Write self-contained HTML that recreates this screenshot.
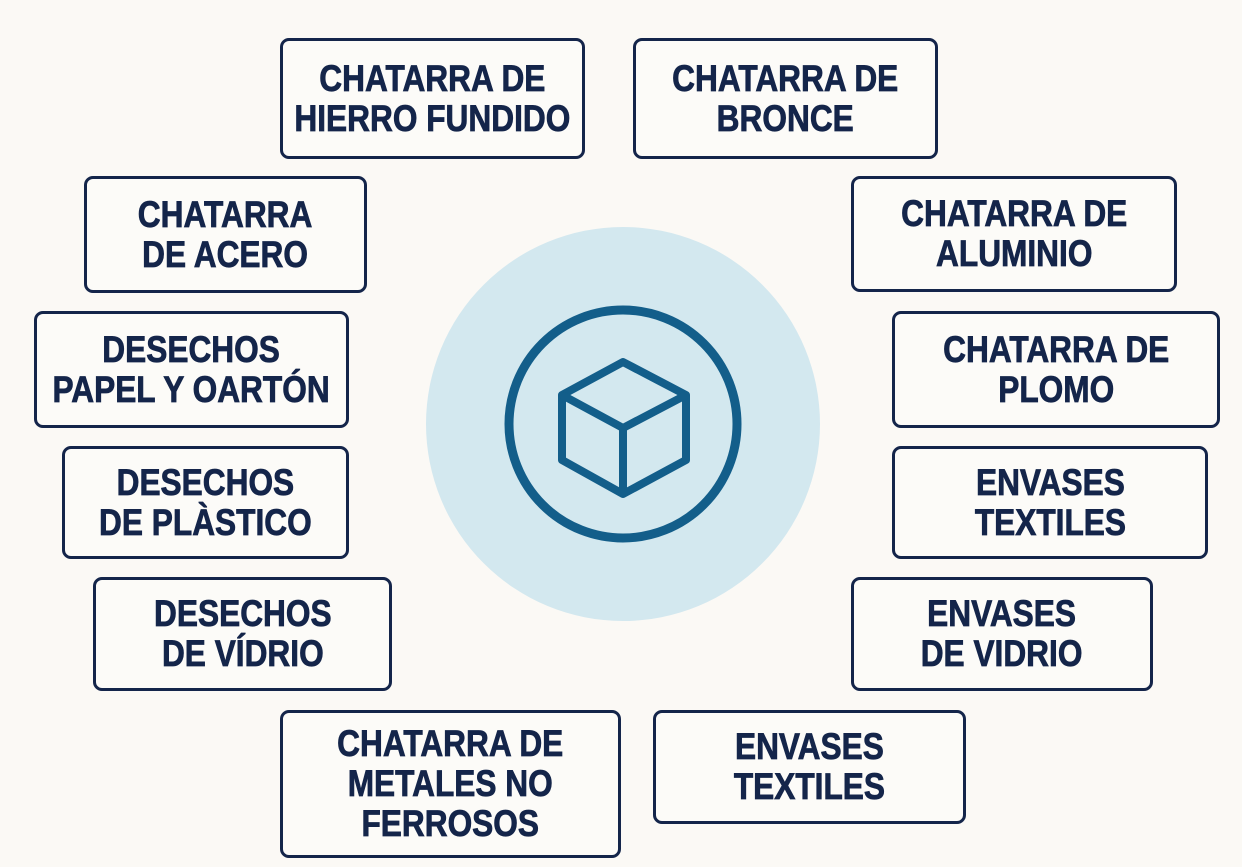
<!DOCTYPE html>
<html><head><meta charset="utf-8"><style>
html,body{margin:0;padding:0;width:1242px;height:867px;background:#fbf9f5;overflow:hidden;position:relative}
.b{position:absolute;box-sizing:border-box;border:3px solid #14254a;border-radius:9px;background:#fcfbf8;display:flex;align-items:center;justify-content:center}
.b span{display:block;font-family:"Liberation Sans Narrow","Liberation Sans",sans-serif;font-weight:bold;font-size:37px;line-height:40px;color:#14254a;-webkit-text-stroke:0.8px #14254a;text-align:center;white-space:nowrap;transform:scaleX(0.855)}
</style></head><body>
<svg style="position:absolute;left:0;top:0" width="1242" height="867">
<circle cx="623" cy="424" r="197" fill="#d3e8ef"/>
<circle cx="623" cy="424" r="114" fill="none" stroke="#135e8a" stroke-width="9"/>
<g fill="none" stroke="#135e8a" stroke-width="8" stroke-linejoin="round">
<polygon points="623,362 686,395 686,460 623,494 562,460 562,395"/>
<polyline points="562,395 623,428 686,395"/>
<line x1="623" y1="428" x2="623" y2="494"/>
</g>
</svg>
<div class="b" style="left:280px;top:38px;width:305px;height:121px"><span>CHATARRA DE<br>HIERRO FUNDIDO</span></div>
<div class="b" style="left:633px;top:38px;width:305px;height:121px"><span>CHATARRA DE<br>BRONCE</span></div>
<div class="b" style="left:84px;top:176px;width:283px;height:117px"><span>CHATARRA<br>DE ACERO</span></div>
<div class="b" style="left:851px;top:176px;width:326px;height:116px"><span>CHATARRA DE<br>ALUMINIO</span></div>
<div class="b" style="left:34px;top:311px;width:315px;height:117px"><span>DESECHOS<br>PAPEL Y OARTÓN</span></div>
<div class="b" style="left:892px;top:311px;width:328px;height:117px"><span>CHATARRA DE<br>PLOMO</span></div>
<div class="b" style="left:62px;top:446px;width:287px;height:113px"><span>DESECHOS<br>DE PLÀSTICO</span></div>
<div class="b" style="left:892px;top:446px;width:316px;height:113px"><span>ENVASES<br>TEXTILES</span></div>
<div class="b" style="left:93px;top:577px;width:299px;height:114px"><span>DESECHOS<br>DE VÍDRIO</span></div>
<div class="b" style="left:851px;top:577px;width:302px;height:114px"><span>ENVASES<br>DE VIDRIO</span></div>
<div class="b" style="left:280px;top:710px;width:341px;height:148px"><span>CHATARRA DE<br>METALES NO<br>FERROSOS</span></div>
<div class="b" style="left:653px;top:710px;width:313px;height:114px"><span>ENVASES<br>TEXTILES</span></div>
</body></html>
